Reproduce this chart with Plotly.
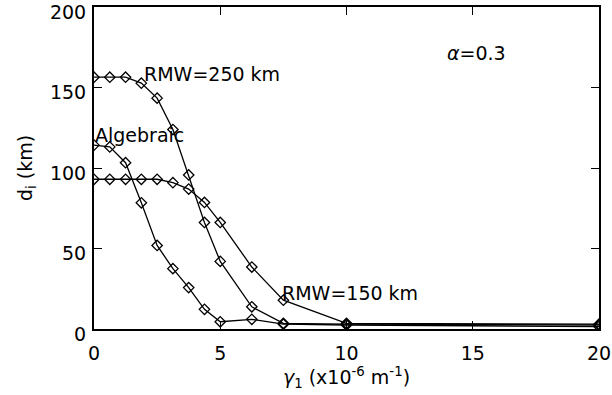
import plotly.graph_objects as go

gamma = [0, 0.625, 1.25, 1.875, 2.5, 3.125, 3.75, 4.375, 5, 6.25, 7.5, 10, 20]
rmw250 = [156.4, 156.4, 156.4, 152.7, 143.4, 123.9, 95.7, 66.2, 42.0, 13.8, 3.5, 3.0, 2.5]
rmw150 = [93.0, 93.0, 93.0, 93.0, 93.0, 90.9, 86.9, 78.6, 66.2, 38.5, 17.9, 3.5, 3.0]
algebraic = [114.2, 113.1, 103.3, 78.4, 51.9, 37.5, 25.7, 12.2, 4.5, 6.0, 3.0, 2.5, 1.5]

x_ticks = [0, 5, 10, 15, 20]
y_ticks = [0, 50, 100, 150, 200]

FONT = "DejaVu Sans"
FS = 19

fig = go.Figure()
for name, ys in [("RMW=250 km", rmw250), ("RMW=150 km", rmw150), ("Algebraic", algebraic)]:
    fig.add_trace(go.Scatter(
        x=gamma, y=ys, mode="lines+markers", name=name,
        line=dict(color="black", width=1.3),
        marker=dict(symbol="diamond-open", size=8, color="black", line=dict(width=1.3)),
        showlegend=False,
    ))

annots = [
    dict(x=1.94, y=158.5, text="RMW=250 km"),
    dict(x=0.0, y=120.5, text="Algebraic"),
    dict(x=7.4, y=22.2, text="RMW=150 km"),
    dict(x=13.95, y=171.5, text="<i>α</i>=0.3"),
]
for a in annots:
    fig.add_annotation(x=a["x"], y=a["y"], text=a["text"], showarrow=False,
                       xanchor="left", yanchor="middle", xref="x", yref="y",
                       font=dict(family=FONT, size=FS, color="black"),
                       borderpad=0)

axis_common = dict(
    showline=True, linecolor="black", linewidth=2, mirror="ticks",
    ticks="inside", ticklen=8, tickwidth=1.3, tickcolor="black",
    showgrid=False, zeroline=False,
    tickfont=dict(family=FONT, size=FS, color="black"),
    ticklabeloverflow="allow",
    automargin=False,
)

fig.update_xaxes(range=[0, 20], tickvals=x_ticks, ticktext=[str(v) for v in x_ticks],
                 ticklabelstandoff=6,
                 title=dict(text="<i>γ</i><sub>1</sub> (x10<sup>-6</sup> m<sup>-1</sup>)",
                            font=dict(family=FONT, size=FS, color="black"), standoff=4),
                 **axis_common)
fig.update_yaxes(range=[0, 200], tickvals=y_ticks, ticktext=[str(v) for v in y_ticks],
                 ticklabelstandoff=2, ticklabelshift=5,
                 title=dict(text="d<sub>i</sub> (km)",
                            font=dict(family=FONT, size=FS, color="black"), standoff=12),
                 **axis_common)

fig.update_layout(
    width=612, height=395,
    margin=dict(l=94, r=13, t=7, b=66),
    paper_bgcolor="white", plot_bgcolor="white",
)

fig.write_html("out.html")
